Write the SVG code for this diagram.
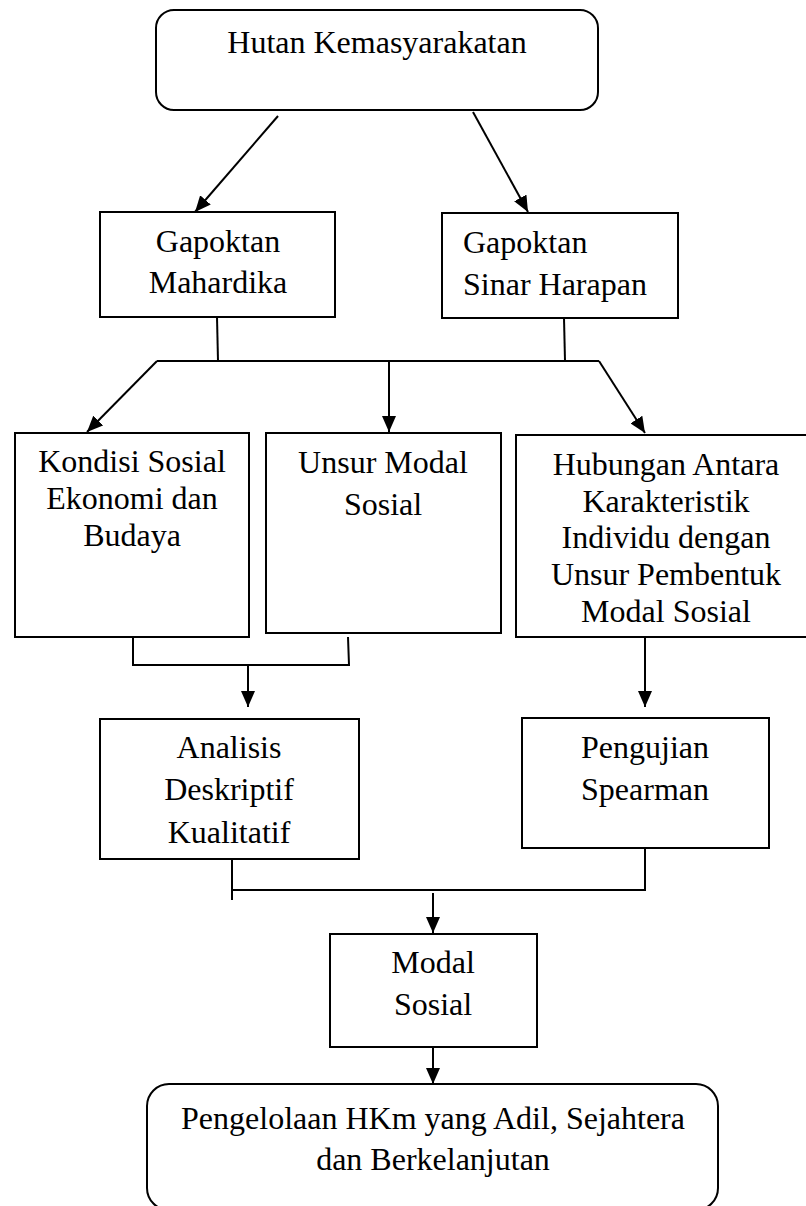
<svg xmlns="http://www.w3.org/2000/svg" width="806" height="1206" viewBox="0 0 806 1206">
<style>
.box{fill:#fff;stroke:#000;stroke-width:2}
.t{font-family:"Liberation Serif","Times New Roman",serif;font-size:32px;fill:#000}
.c{text-anchor:middle}
.ln{fill:none;stroke:#000;stroke-width:2}
</style>
<defs>
<marker id="ah" markerUnits="userSpaceOnUse" markerWidth="16" markerHeight="14" refX="16" refY="7" orient="auto">
<path d="M0,0 L16,7 L0,14 z" fill="#000"/>
</marker>
</defs>
<rect width="806" height="1206" fill="#fff"/>
<g id="connectors">
<line class="ln" x1="278" y1="116" x2="195" y2="212" marker-end="url(#ah)"/>
<line class="ln" x1="473" y1="112" x2="528" y2="212" marker-end="url(#ah)"/>
<polyline class="ln" points="217,317 218,361"/>
<polyline class="ln" points="564,318 565,361"/>
<line class="ln" x1="157" y1="361" x2="599" y2="361"/>
<line class="ln" x1="157" y1="361" x2="87" y2="432" marker-end="url(#ah)"/>
<line class="ln" x1="389" y1="361" x2="389" y2="432" marker-end="url(#ah)"/>
<line class="ln" x1="599" y1="361" x2="645" y2="433" marker-end="url(#ah)"/>
<polyline class="ln" points="133,637 133,665 349,665 348,637"/>
<line class="ln" x1="248" y1="665" x2="248" y2="707" marker-end="url(#ah)"/>
<line class="ln" x1="645" y1="637" x2="645" y2="707" marker-end="url(#ah)"/>
<polyline class="ln" points="232,859 232,900"/>
<polyline class="ln" points="232,890 645,890 645,848"/>
<line class="ln" x1="433" y1="893" x2="433" y2="933" marker-end="url(#ah)"/>
<line class="ln" x1="433" y1="1047" x2="433" y2="1084" marker-end="url(#ah)"/>
</g>
<g id="hutan">
<rect class="box" x="156" y="10" width="442" height="100" rx="18"/>
<text class="t c" x="377" y="53">Hutan Kemasyarakatan</text>
</g>
<g id="mahardika">
<rect class="box" x="100" y="212" width="235" height="105"/>
<text class="t c" x="218" y="252">Gapoktan</text>
<text class="t c" x="218" y="293">Mahardika</text>
</g>
<g id="sinar">
<rect class="box" x="442" y="213" width="236" height="105"/>
<text class="t" x="463" y="253">Gapoktan</text>
<text class="t" x="463" y="295">Sinar Harapan</text>
</g>
<g id="kondisi">
<rect class="box" x="15" y="433" width="234" height="204"/>
<text class="t c" x="132" y="472">Kondisi Sosial</text>
<text class="t c" x="132" y="509">Ekonomi dan</text>
<text class="t c" x="132" y="546">Budaya</text>
</g>
<g id="unsur">
<rect class="box" x="266" y="433" width="235" height="200"/>
<text class="t c" x="383" y="473">Unsur Modal</text>
<text class="t c" x="383" y="515">Sosial</text>
</g>
<g id="hubungan">
<rect class="box" x="516" y="435" width="300" height="202"/>
<text class="t c" x="666" y="475">Hubungan Antara</text>
<text class="t c" x="666" y="512">Karakteristik</text>
<text class="t c" x="666" y="548">Individu dengan</text>
<text class="t c" x="666" y="585">Unsur Pembentuk</text>
<text class="t c" x="666" y="622">Modal Sosial</text>
</g>
<g id="analisis">
<rect class="box" x="100" y="719" width="259" height="140"/>
<text class="t c" x="229" y="758">Analisis</text>
<text class="t c" x="229" y="800">Deskriptif</text>
<text class="t c" x="229" y="843">Kualitatif</text>
</g>
<g id="pengujian">
<rect class="box" x="522" y="718" width="247" height="130"/>
<text class="t c" x="645" y="758">Pengujian</text>
<text class="t c" x="645" y="800">Spearman</text>
</g>
<g id="modal">
<rect class="box" x="330" y="934" width="207" height="113"/>
<text class="t c" x="433" y="973">Modal</text>
<text class="t c" x="433" y="1015">Sosial</text>
</g>
<g id="pengelolaan">
<rect class="box" x="147" y="1084" width="571" height="126" rx="22"/>
<text class="t c" x="433" y="1129">Pengelolaan HKm yang Adil, Sejahtera</text>
<text class="t c" x="433" y="1170">dan Berkelanjutan</text>
</g>
</svg>
